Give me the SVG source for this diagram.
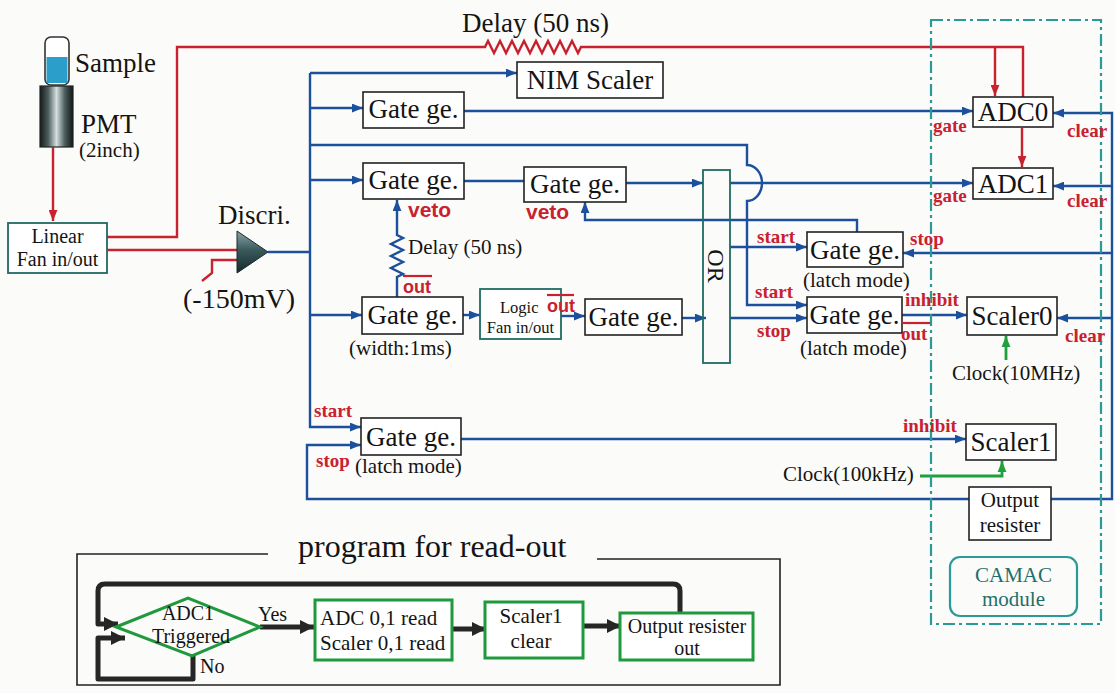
<svg xmlns="http://www.w3.org/2000/svg" width="1115" height="693" viewBox="0 0 1115 693">
  <style>
    .box{fill:#fff;stroke:#222;stroke-width:1.6}
    .tbox{fill:#fff;stroke:#1f6b62;stroke-width:1.8}
    .obox{fill:none;stroke:#1f6b62;stroke-width:1.8}
    .bl{stroke:#1c4f9c;stroke-width:2.4;fill:none}
    .rd{stroke:#c8212f;stroke-width:2.4;fill:none}
    .gr{stroke:#1ea03c;stroke-width:2.8;fill:none}
    .fk{stroke:#262626;stroke-width:5;fill:none;stroke-linejoin:round}
    .fbox{fill:#fff;stroke:#1e9a3c;stroke-width:3}
    .t{font-family:"Liberation Serif",serif;fill:#141414}
    .big{font-size:27px}
    .mid{font-size:21px}
    .sm{font-size:16.5px}
    .c{text-anchor:middle}
    .rl{font-family:"Liberation Serif",serif;font-weight:bold;font-size:19px;fill:#c8212f}
    .rs{font-family:"Liberation Sans",sans-serif;font-weight:bold;font-size:21px;fill:#c8212f}
    .ov{stroke:#c8212f;stroke-width:2.2}
  </style>
  <defs>
    <marker id="ab" viewBox="0 0 10 8" refX="10" refY="4" markerWidth="11" markerHeight="9" markerUnits="userSpaceOnUse" orient="auto"><path d="M0,0 L10,4 L0,8 z" fill="#1c4f9c"/></marker>
    <marker id="ar" viewBox="0 0 10 8" refX="10" refY="4" markerWidth="11" markerHeight="9" markerUnits="userSpaceOnUse" orient="auto"><path d="M0,0 L10,4 L0,8 z" fill="#c8212f"/></marker>
    <marker id="ag" viewBox="0 0 10 8" refX="10" refY="4" markerWidth="11" markerHeight="10" markerUnits="userSpaceOnUse" orient="auto"><path d="M0,0 L10,4 L0,8 z" fill="#1ea03c"/></marker>
    <marker id="ak" viewBox="0 0 10 10" refX="10" refY="5" markerWidth="15" markerHeight="14" markerUnits="userSpaceOnUse" orient="auto"><path d="M0,0 L10,5 L0,10 z" fill="#262626"/></marker>
    <linearGradient id="pmt" x1="0" y1="0" x2="1" y2="0">
      <stop offset="0" stop-color="#151b1b"/>
      <stop offset="0.25" stop-color="#4d5e5e"/>
      <stop offset="0.5" stop-color="#d3dede"/>
      <stop offset="0.75" stop-color="#4d5e5e"/>
      <stop offset="1" stop-color="#111616"/>
    </linearGradient>
    <linearGradient id="tri" x1="0" y1="0" x2="0" y2="1">
      <stop offset="0" stop-color="#8aa6a6"/>
      <stop offset="0.45" stop-color="#3a5a5c"/>
      <stop offset="1" stop-color="#16282a"/>
    </linearGradient>
  </defs>

  <rect width="1115" height="693" fill="#fbfbf9"/>

  <!-- detector: sample vial on the photomultiplier -->
  <g id="sample">
    <rect x="45" y="37" width="24" height="48" rx="6" fill="#fff" stroke="#333" stroke-width="1.6"/>
    <rect x="46.5" y="57" width="21" height="26" fill="#2b9fc9"/>
    <text class="t big" x="75" y="72">Sample</text>
  </g>
  <g id="pmt-tube">
    <rect x="40" y="86" width="33" height="61" fill="url(#pmt)" stroke="#222" stroke-width="1.2"/>
    <text class="t big" x="81" y="133">PMT</text>
    <text class="t mid" x="79" y="157">(2inch)</text>
  </g>

  <!-- connectors -->
  <g id="connectors">
    <!-- analog (red) -->
    <path class="rd" d="M53,147 V221" marker-end="url(#ar)"/>
    <path class="rd" d="M107,237 H177 V47 H485 l3,-6 l6,12 l6,-12 l6,12 l6,-12 l6,12 l6,-12 l6,12 l6,-12 l6,12 l6,-12 l6,12 l6,-12 l6,12 l6,-12 l6,12 l3,-6 H1023 V97"/>
    <path class="rd" d="M995,47 V96" marker-end="url(#ar)"/>
    <path class="rd" d="M1022,128 V167" marker-end="url(#ar)"/>
    <path class="rd" d="M107,250 H237"/>
    <path class="rd" d="M237,260 H212 V273 L202,281"/>

    <!-- logic (blue) -->
    <path class="bl" d="M268,252 H310"/>
    <path class="bl" d="M310,73 V427 H361" marker-end="url(#ab)"/>
    <path class="bl" d="M310,73 H517" marker-end="url(#ab)"/>
    <path class="bl" d="M310,108 H363" marker-end="url(#ab)"/>
    <path class="bl" d="M310,180 H363" marker-end="url(#ab)"/>
    <path class="bl" d="M310,315 H362" marker-end="url(#ab)"/>
    <path class="bl" d="M464,111 H973" marker-end="url(#ab)"/>
    <path class="bl" d="M310,145 H747 V165 A15,18 0 0 1 747,201 V305 H807" marker-end="url(#ab)"/>
    <path class="bl" d="M464,181 H524"/>
    <path class="bl" d="M626,183 H703" marker-end="url(#ab)"/>
    <path class="bl" d="M730,183 H973" marker-end="url(#ab)"/>
    <path class="bl" d="M857,232 V220 H585 V202" marker-end="url(#ab)"/>
    <path class="bl" d="M397,297 V277 l6,-3 l-12,-6 l12,-6 l-12,-6 l12,-6 l-12,-6 l12,-6 l-6,-3 V200" marker-end="url(#ab)"/>
    <path class="bl" d="M463,315 H480" marker-end="url(#ab)"/>
    <path class="bl" d="M561,316 H585" marker-end="url(#ab)"/>
    <path class="bl" d="M682,318 H706" marker-end="url(#ab)"/>
    <path class="bl" d="M730,247 H807" marker-end="url(#ab)"/>
    <path class="bl" d="M730,318 H807" marker-end="url(#ab)"/>
    <path class="bl" d="M902,315 H967" marker-end="url(#ab)"/>
    <path class="bl" d="M461,439 H966" marker-end="url(#ab)"/>
    <path class="bl" d="M969,499 H307 V445 H361" marker-end="url(#ab)"/>
    <path class="bl" d="M1051,499 H1112 V113 H1053" marker-end="url(#ab)"/>
    <path class="bl" d="M1112,186 H1053" marker-end="url(#ab)"/>
    <path class="bl" d="M1112,253 H903" marker-end="url(#ab)"/>
    <path class="bl" d="M1112,318 H1057" marker-end="url(#ab)"/>

    <!-- clocks (green) -->
    <path class="gr" d="M1006,360 V336" marker-end="url(#ag)"/>
    <path class="gr" d="M920,476 H1002 V461" marker-end="url(#ag)"/>
  </g>

  <!-- CAMAC crate outline -->
  <rect x="931" y="20" width="170" height="604" fill="none" stroke="#2a9a98" stroke-width="2.2" stroke-dasharray="12 4 3 4"/>

  <g id="linear-fan">
    <rect class="tbox" x="8" y="223" width="99" height="50"/>
    <text class="t c" style="font-size:20px" x="57.5" y="243">Linear</text>
    <text class="t c" style="font-size:20px" x="57.5" y="266">Fan in/out</text>
  </g>

  <g id="discri">
    <polygon points="237,231 268,252 237,273" fill="url(#tri)" stroke="#1a2a2a" stroke-width="1"/>
    <text class="t big" x="218" y="224">Discri.</text>
    <text class="t" style="font-size:28px" x="183" y="308">(-150mV)</text>
  </g>

  <text class="t big" x="462" y="32">Delay (50 ns)</text>

  <g id="nim-scaler">
    <rect class="box" x="517" y="62" width="146" height="36"/>
    <text class="t big c" x="590" y="89">NIM Scaler</text>
  </g>

  <g id="gate-adc0">
    <rect class="box" x="363" y="92" width="101" height="36"/>
    <text class="t big c" x="413.5" y="118">Gate ge.</text>
  </g>

  <g id="gate-veto1">
    <rect class="box" x="363" y="163" width="101" height="36"/>
    <text class="t big c" x="413.5" y="189">Gate ge.</text>
    <text class="rs" x="408" y="217">veto</text>
  </g>

  <g id="gate-veto2">
    <rect class="box" x="524" y="167" width="102" height="35"/>
    <text class="t big c" x="575" y="193">Gate ge.</text>
    <text class="rs" x="526" y="219">veto</text>
  </g>

  <g id="delay-veto">
    <text class="t mid" x="408" y="254">Delay (50 ns)</text>
    <line class="ov" x1="403" y1="276" x2="432" y2="276"/>
    <text class="rs" style="font-size:18px" x="403" y="293">out</text>
  </g>

  <g id="gate-width">
    <rect class="box" x="362" y="297" width="101" height="37"/>
    <text class="t big c" x="412.5" y="324">Gate ge.</text>
    <text class="t mid" x="349" y="355">(width:1ms)</text>
  </g>

  <g id="logic-fan">
    <rect class="tbox" x="480" y="289" width="81" height="50"/>
    <text class="t sm" x="500" y="313">Logic</text>
    <text class="t sm c" x="520.5" y="333">Fan in/out</text>
    <line class="ov" x1="547" y1="295" x2="574" y2="295"/>
    <text class="rs" style="font-size:18px" x="547" y="312">out</text>
  </g>

  <g id="gate-or-in">
    <rect class="box" x="585" y="299" width="97" height="36"/>
    <text class="t big c" x="633.5" y="326">Gate ge.</text>
  </g>

  <g id="or">
    <rect class="obox" x="703" y="170" width="27" height="193"/>
    <text class="t c" style="font-size:24px" transform="translate(708,266) rotate(90)">OR</text>
  </g>

  <g id="gate-latch1">
    <rect class="box" x="807" y="232" width="96" height="35"/>
    <text class="t big c" x="855" y="259">Gate ge.</text>
    <text class="t mid" x="803" y="287">(latch mode)</text>
    <text class="rl" x="757" y="243">start</text>
    <text class="rl" x="910" y="245">stop</text>
  </g>

  <g id="gate-latch2">
    <rect class="box" x="807" y="297" width="95" height="36"/>
    <text class="t big c" x="854.5" y="324">Gate ge.</text>
    <text class="t mid" x="800" y="355">(latch mode)</text>
    <text class="rl" x="755" y="298">start</text>
    <text class="rl" x="757" y="337">stop</text>
    <text class="rl" x="905" y="306">inhibit</text>
    <line class="ov" x1="902" y1="323" x2="930" y2="323"/>
    <text class="rl" x="901" y="340">out</text>
  </g>

  <g id="gate-latch3">
    <rect class="box" x="361" y="418" width="100" height="37"/>
    <text class="t big c" x="411" y="446">Gate ge.</text>
    <text class="t mid" x="355" y="473">(latch mode)</text>
    <text class="rl" x="314" y="417">start</text>
    <text class="rl" x="316" y="467">stop</text>
  </g>

  <g id="adc0">
    <rect class="box" x="973" y="97" width="80" height="30"/>
    <text class="t big c" x="1013" y="121">ADC0</text>
    <text class="rl" x="933" y="132">gate</text>
    <text class="rl" x="1067" y="137">clear</text>
  </g>

  <g id="adc1">
    <rect class="box" x="973" y="168" width="80" height="31"/>
    <text class="t big c" x="1013" y="193">ADC1</text>
    <text class="rl" x="933" y="202">gate</text>
    <text class="rl" x="1067" y="207">clear</text>
  </g>

  <g id="scaler0">
    <rect class="box" x="967" y="297" width="90" height="38"/>
    <text class="t big c" x="1012" y="325">Scaler0</text>
    <text class="rl" x="1065" y="342">clear</text>
    <text class="t mid" x="952" y="380">Clock(10MHz)</text>
  </g>

  <g id="scaler1">
    <rect class="box" x="966" y="424" width="90" height="36"/>
    <text class="t big c" x="1011" y="451">Scaler1</text>
    <text class="rl" x="903" y="432">inhibit</text>
    <text class="t mid" x="783" y="481">Clock(100kHz)</text>
  </g>

  <g id="output-register">
    <rect class="box" x="969" y="487" width="82" height="53"/>
    <text class="t mid c" x="1010" y="507">Output</text>
    <text class="t mid c" x="1010" y="532">resister</text>
  </g>

  <g id="camac-label">
    <rect x="950" y="557" width="127" height="59" rx="10" fill="none" stroke="#2a9a98" stroke-width="2.2"/>
    <text class="t c" style="font-size:21px;fill:#1e6f6a" x="1013.5" y="582">CAMAC</text>
    <text class="t c" style="font-size:21px;fill:#1e6f6a" x="1013.5" y="606">module</text>
  </g>

  <!-- read-out program flowchart -->
  <g id="program-frame">
    <path d="M268,554 H77 V685 H780 V559 H597" fill="none" stroke="#222" stroke-width="1.6"/>
    <text class="t" style="font-size:32px" x="298" y="557">program for read-out</text>
  </g>

  <g id="flow-connectors">
    <path class="fk" d="M260,627 H314" marker-end="url(#ak)"/>
    <path class="fk" d="M452,629 H486" marker-end="url(#ak)"/>
    <path class="fk" d="M583,626 H621" marker-end="url(#ak)"/>
    <path class="fk" d="M680,613 V591 Q680,584 673,584 H105 Q98,584 98,591 V624 H118" marker-end="url(#ak)"/>
    <path class="fk" d="M193,655 V679 H98 V638 H125" marker-end="url(#ak)"/>
  </g>

  <g id="adc1-triggered">
    <polygon points="116,627 188,598 260,627 192,656" fill="none" stroke="#1e9a3c" stroke-width="3"/>
    <text class="t c" style="font-size:20px" x="188" y="620">ADC1</text>
    <text class="t c" style="font-size:20px" x="191" y="643">Triggered</text>
    <text class="t" style="font-size:20px" x="258" y="621">Yes</text>
    <text class="t" style="font-size:20px" x="200" y="673">No</text>
  </g>

  <g id="read-step">
    <rect class="fbox" x="315" y="600" width="137" height="60"/>
    <text class="t mid" x="320" y="625">ADC 0,1 read</text>
    <text class="t mid" x="320" y="650">Scaler 0,1 read</text>
  </g>

  <g id="clear-step">
    <rect class="fbox" x="485" y="602" width="98" height="56"/>
    <text class="t mid c" x="531" y="623">Scaler1</text>
    <text class="t mid c" x="531" y="648">clear</text>
  </g>

  <g id="output-step">
    <rect class="fbox" x="620" y="613" width="133" height="47"/>
    <text class="t c" style="font-size:20px" x="687" y="633">Output resister</text>
    <text class="t c" style="font-size:20px" x="687" y="655">out</text>
  </g>
</svg>
